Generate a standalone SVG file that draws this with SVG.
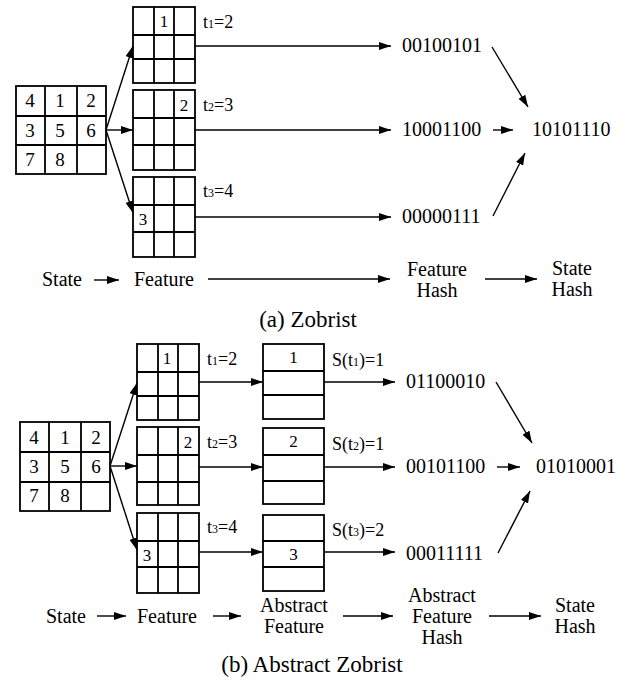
<svg xmlns="http://www.w3.org/2000/svg" width="628" height="684" viewBox="0 0 628 684">
<defs>
<marker id="ah" markerUnits="userSpaceOnUse" markerWidth="12" markerHeight="8" refX="12" refY="4" orient="auto">
<path d="M0,0 L12,4 L0,8 z" fill="#000"/>
</marker>
<style>
.zg{fill:#fff;stroke:#000;stroke-width:1.8}
.zgl{stroke:#000;stroke-width:1.8;fill:none}
.zc{stroke:#000;stroke-width:1.4;fill:none;marker-end:url(#ah)}
.zt{font-size:20px}
.zb{font-size:20px}
.zn{font-size:19px;text-anchor:middle}
.zm{font-size:17px;text-anchor:middle}
.zl{font-size:18px}
.zs{font-size:12px}
.zcap{font-size:23px;text-anchor:middle}
.zmid{text-anchor:middle}
</style>
</defs>
<rect width="628" height="684" fill="#fff"/>

<!-- ===== (a) Zobrist ===== -->
<g id="a-state">
<rect class="zg" x="16" y="86" width="90" height="88"/>
<path class="zgl" d="M45,86V174M77,86V174M16,116H106M16,145H106"/>
<text font-family="Liberation Serif" class="zn" x="30" y="107">4</text><text font-family="Liberation Serif" class="zn" x="60" y="107">1</text><text font-family="Liberation Serif" class="zn" x="91" y="107">2</text>
<text font-family="Liberation Serif" class="zn" x="30" y="137">3</text><text font-family="Liberation Serif" class="zn" x="60" y="137">5</text><text font-family="Liberation Serif" class="zn" x="91" y="137">6</text>
<text font-family="Liberation Serif" class="zn" x="30" y="166">7</text><text font-family="Liberation Serif" class="zn" x="60" y="166">8</text>
</g>
<g id="a-feat1">
<rect class="zg" x="133" y="7" width="62" height="76"/>
<path class="zgl" d="M154,7V83M174,7V83M133,35H195M133,59H195"/>
<text font-family="Liberation Serif" class="zm" x="164" y="27">1</text>
<text font-family="Liberation Serif" class="zl" x="203" y="28">t<tspan class="zs">1</tspan>=2</text>
</g>
<g id="a-feat2">
<rect class="zg" x="133" y="90" width="62" height="80"/>
<path class="zgl" d="M154,90V170M174,90V170M133,118H195M133,145H195"/>
<text font-family="Liberation Serif" class="zm" x="184" y="111">2</text>
<text font-family="Liberation Serif" class="zl" x="203" y="111">t<tspan class="zs">2</tspan>=3</text>
</g>
<g id="a-feat3">
<rect class="zg" x="133" y="177" width="62" height="80"/>
<path class="zgl" d="M154,177V257M174,177V257M133,205H195M133,232H195"/>
<text font-family="Liberation Serif" class="zm" x="143" y="225">3</text>
<text font-family="Liberation Serif" class="zl" x="203" y="197">t<tspan class="zs">3</tspan>=4</text>
</g>
<g id="a-hash1"><text font-family="Liberation Serif" class="zb" x="402" y="52">00100101</text></g>
<g id="a-hash2"><text font-family="Liberation Serif" class="zb" x="402" y="136">10001100</text></g>
<g id="a-hash3"><text font-family="Liberation Serif" class="zb" x="402" y="223">00000111</text></g>
<g id="a-result"><text font-family="Liberation Serif" class="zb" x="532" y="136">10101110</text></g>
<g id="a-lbl-state"><text font-family="Liberation Serif" class="zt" x="42" y="286">State</text></g>
<g id="a-lbl-feature"><text font-family="Liberation Serif" class="zt" x="134" y="286">Feature</text></g>
<g id="a-lbl-fhash"><text font-family="Liberation Serif" class="zt zmid" x="437" y="276">Feature</text><text font-family="Liberation Serif" class="zt zmid" x="437" y="297">Hash</text></g>
<g id="a-lbl-shash"><text font-family="Liberation Serif" class="zt zmid" x="572" y="275">State</text><text font-family="Liberation Serif" class="zt zmid" x="572" y="296">Hash</text></g>
<g id="a-caption"><text font-family="Liberation Serif" class="zcap" x="308" y="327">(a) Zobrist</text></g>

<g id="a-connectors">
<line class="zc" x1="106" y1="130" x2="133" y2="46"/>
<line class="zc" x1="106" y1="130" x2="133" y2="130"/>
<line class="zc" x1="106" y1="130" x2="133" y2="213"/>
<line class="zc" x1="195" y1="46" x2="391" y2="46"/>
<line class="zc" x1="195" y1="130" x2="391" y2="130"/>
<line class="zc" x1="195" y1="217" x2="391" y2="217"/>
<line class="zc" x1="492" y1="47" x2="528" y2="107"/>
<line class="zc" x1="493" y1="130" x2="513" y2="130"/>
<line class="zc" x1="493" y1="216" x2="525" y2="153"/>
<line class="zc" x1="94" y1="280" x2="119" y2="280"/>
<line class="zc" x1="208" y1="279" x2="390" y2="279"/>
<line class="zc" x1="485" y1="279" x2="537" y2="279"/>
</g>

<!-- ===== (b) Abstract Zobrist ===== -->
<g id="b-state">
<rect class="zg" x="20" y="422" width="90" height="89"/>
<path class="zgl" d="M49,422V511M81,422V511M20,452H110M20,482H110"/>
<text font-family="Liberation Serif" class="zn" x="34" y="444">4</text><text font-family="Liberation Serif" class="zn" x="65" y="444">1</text><text font-family="Liberation Serif" class="zn" x="96" y="444">2</text>
<text font-family="Liberation Serif" class="zn" x="34" y="473">3</text><text font-family="Liberation Serif" class="zn" x="65" y="473">5</text><text font-family="Liberation Serif" class="zn" x="96" y="473">6</text>
<text font-family="Liberation Serif" class="zn" x="34" y="502">7</text><text font-family="Liberation Serif" class="zn" x="65" y="502">8</text>
</g>
<g id="b-feat1">
<rect class="zg" x="137" y="344" width="62" height="76"/>
<path class="zgl" d="M158,344V420M178,344V420M137,372H199M137,396H199"/>
<text font-family="Liberation Serif" class="zm" x="167" y="364">1</text>
<text font-family="Liberation Serif" class="zl" x="207" y="365">t<tspan class="zs">1</tspan>=2</text>
</g>
<g id="b-feat2">
<rect class="zg" x="137" y="427" width="62" height="78"/>
<path class="zgl" d="M158,427V505M178,427V505M137,455H199M137,482H199"/>
<text font-family="Liberation Serif" class="zm" x="188" y="448">2</text>
<text font-family="Liberation Serif" class="zl" x="207" y="448">t<tspan class="zs">2</tspan>=3</text>
</g>
<g id="b-feat3">
<rect class="zg" x="137" y="513" width="62" height="80"/>
<path class="zgl" d="M158,513V593M178,513V593M137,541H199M137,567H199"/>
<text font-family="Liberation Serif" class="zm" x="147" y="561">3</text>
<text font-family="Liberation Serif" class="zl" x="207" y="533">t<tspan class="zs">3</tspan>=4</text>
</g>
<g id="b-abs1">
<rect class="zg" x="263" y="344" width="61" height="75"/>
<path class="zgl" d="M263,371H324M263,395H324"/>
<text font-family="Liberation Serif" class="zm" x="293.5" y="363">1</text>
<text font-family="Liberation Serif" class="zl" x="332" y="366">S(t<tspan class="zs">1</tspan>)=1</text>
</g>
<g id="b-abs2">
<rect class="zg" x="263" y="428" width="61" height="76"/>
<path class="zgl" d="M263,455H324M263,481H324"/>
<text font-family="Liberation Serif" class="zm" x="293.5" y="447">2</text>
<text font-family="Liberation Serif" class="zl" x="332" y="450">S(t<tspan class="zs">2</tspan>)=1</text>
</g>
<g id="b-abs3">
<rect class="zg" x="263" y="515" width="61" height="76"/>
<path class="zgl" d="M263,541H324M263,567H324"/>
<text font-family="Liberation Serif" class="zm" x="293.5" y="560">3</text>
<text font-family="Liberation Serif" class="zl" x="332" y="536">S(t<tspan class="zs">3</tspan>)=2</text>
</g>
<g id="b-hash1"><text font-family="Liberation Serif" class="zb" x="406" y="388">01100010</text></g>
<g id="b-hash2"><text font-family="Liberation Serif" class="zb" x="406" y="473">00101100</text></g>
<g id="b-hash3"><text font-family="Liberation Serif" class="zb" x="406" y="560">00011111</text></g>
<g id="b-result"><text font-family="Liberation Serif" class="zb" x="536" y="473">01010001</text></g>
<g id="b-lbl-state"><text font-family="Liberation Serif" class="zt" x="46" y="623">State</text></g>
<g id="b-lbl-feature"><text font-family="Liberation Serif" class="zt" x="137" y="623">Feature</text></g>
<g id="b-lbl-afeature"><text font-family="Liberation Serif" class="zt zmid" x="294" y="612">Abstract</text><text font-family="Liberation Serif" class="zt zmid" x="294" y="633">Feature</text></g>
<g id="b-lbl-afhash"><text font-family="Liberation Serif" class="zt zmid" x="442" y="602">Abstract</text><text font-family="Liberation Serif" class="zt zmid" x="442" y="623">Feature</text><text font-family="Liberation Serif" class="zt zmid" x="442" y="644">Hash</text></g>
<g id="b-lbl-shash"><text font-family="Liberation Serif" class="zt zmid" x="575" y="612">State</text><text font-family="Liberation Serif" class="zt zmid" x="575" y="633">Hash</text></g>
<g id="b-caption"><text font-family="Liberation Serif" class="zcap" x="312" y="672">(b) Abstract Zobrist</text></g>

<g id="b-connectors">
<line class="zc" x1="110" y1="466" x2="137" y2="383"/>
<line class="zc" x1="110" y1="466" x2="137" y2="466"/>
<line class="zc" x1="110" y1="466" x2="137" y2="550"/>
<line class="zc" x1="199" y1="382" x2="263" y2="382"/>
<line class="zc" x1="199" y1="467" x2="263" y2="467"/>
<line class="zc" x1="199" y1="552" x2="263" y2="552"/>
<line class="zc" x1="324" y1="382" x2="395" y2="382"/>
<line class="zc" x1="324" y1="467" x2="395" y2="467"/>
<line class="zc" x1="324" y1="552" x2="395" y2="552"/>
<line class="zc" x1="496" y1="382" x2="532" y2="443"/>
<line class="zc" x1="497" y1="467" x2="520" y2="467"/>
<line class="zc" x1="498" y1="553" x2="530" y2="491"/>
<line class="zc" x1="97" y1="616" x2="126" y2="616"/>
<line class="zc" x1="213" y1="616" x2="241" y2="616"/>
<line class="zc" x1="343" y1="616" x2="393" y2="616"/>
<line class="zc" x1="489" y1="616" x2="541" y2="616"/>
</g>
</svg>
